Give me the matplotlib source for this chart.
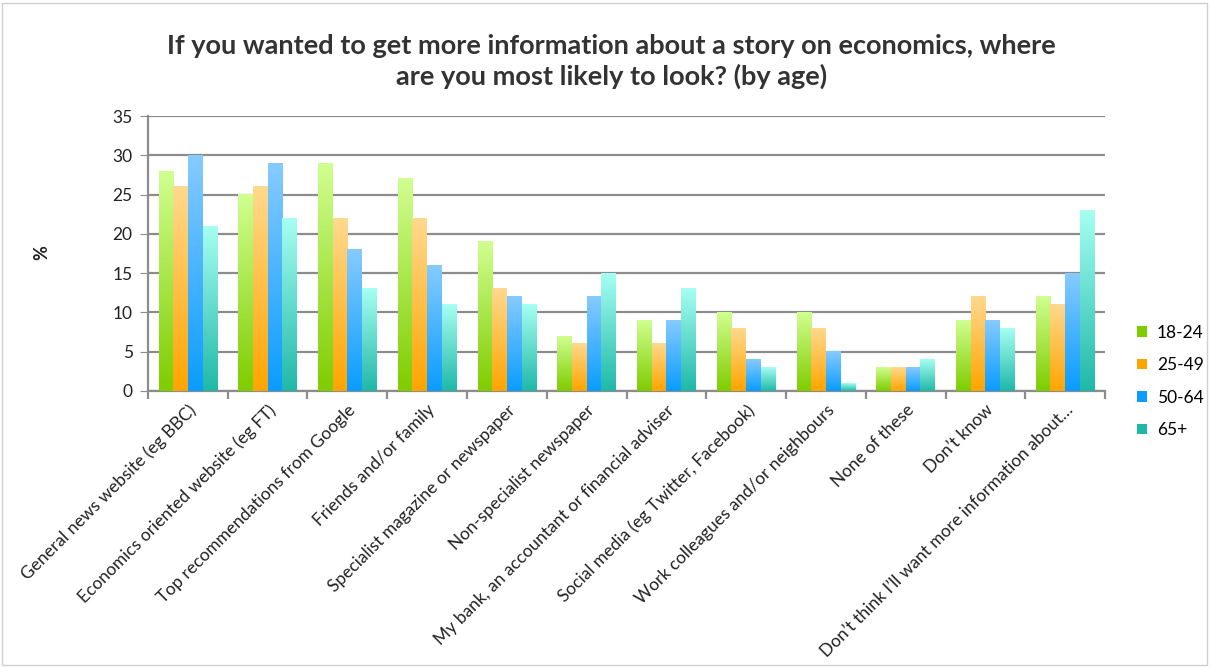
import numpy as np
import matplotlib.pyplot as plt
from matplotlib.colors import LinearSegmentedColormap
from matplotlib.patches import Rectangle, Patch

plt.rcParams['font.family'] = ['Lato', 'DejaVu Sans']

categories = [
    "General news website (eg BBC)",
    "Economics oriented website (eg FT)",
    "Top recommendations from Google",
    "Friends and/or family",
    "Specialist magazine or newspaper",
    "Non-specialist newspaper",
    "My bank, an accountant or financial adviser",
    "Social media (eg Twitter, Facebook)",
    "Work colleagues and/or neighbours",
    "None of these",
    "Don\u2019t know",
    "Don\u2019t think I\u2019ll want more information about\u2026",
]
age_18_24 = [28, 25, 29, 27, 19, 7, 9, 10, 10, 3, 9, 12]
age_25_49 = [26, 26, 22, 22, 13, 6, 6, 8, 8, 3, 12, 11]
age_50_64 = [30, 29, 18, 16, 12, 12, 9, 4, 5, 3, 9, 15]
age_65_plus = [21, 22, 13, 11, 11, 15, 13, 3, 1, 4, 8, 23]
series_names = ["18-24", "25-49", "50-64", "65+"]

# top colour, bottom colour for each series
gradients = [
    ("#d0ff90", "#7fcc00"),
    ("#ffd98e", "#ffa500"),
    ("#86cbff", "#0a9cff"),
    ("#a6fff2", "#1fb8a8"),
]

fig = plt.figure(figsize=(12.11, 6.68), dpi=100)
ax = fig.add_axes([0.1222, 0.4147, 0.7903, 0.4116])

series = [age_18_24, age_25_49, age_50_64, age_65_plus]
x = np.arange(len(categories))
w = 0.184
grad = np.linspace(1, 0, 256).reshape(-1, 1)
for i, vals in enumerate(series):
    cmap = LinearSegmentedColormap.from_list("g%d" % i, [gradients[i][1], gradients[i][0]])
    for xi, v in zip(x, vals):
        left = xi - 2 * w + i * w
        ax.imshow(grad, cmap=cmap, vmin=0, vmax=1, aspect='auto',
                  extent=[left, left + w, 0, v], zorder=3, interpolation='bilinear')

ax.set_xlim(-0.5, len(categories) - 0.5)
ax.set_ylim(0, 35)
ax.set_aspect('auto')
ax.set_yticks(range(0, 36, 5))
ax.yaxis.grid(True, color='#8c8c8c', linewidth=1.6)
ax.set_axisbelow(True)
for s in ['top', 'right']:
    ax.spines[s].set_visible(False)
ax.spines['left'].set_color('#8c8c8c')
ax.spines['bottom'].set_color('#8c8c8c')
ax.spines['left'].set_linewidth(1.6)
ax.spines['bottom'].set_linewidth(1.6)
ax.tick_params(axis='y', length=6, color='#8c8c8c', labelsize=12.5, labelcolor='#222222', pad=5)

ax.set_xticks(x)
ax.set_xticklabels(categories, rotation=45, ha='right', rotation_mode='anchor', fontsize=12.5, color='#222222')
ax.tick_params(axis='x', which='major', length=0, pad=8)
ax.set_xticks(np.arange(-0.5, len(categories), 1), minor=True)
ax.tick_params(axis='x', which='minor', length=6, color='#8c8c8c', width=1.6)

fig.text(42 / 1211, 1 - 253 / 668, '%', rotation=90, ha='center', va='center',
         fontsize=13, fontweight='bold', color='#222222')

fig.text(0.505, 0.908, "If you wanted to get more information about a story on economics, where\nare you most likely to look? (by age)",
         ha='center', va='center', fontsize=19.5, fontweight='bold', color='#333333', linespacing=1.3)

handles = [Patch(facecolor=gradients[i][0], edgecolor='none', label=series_names[i]) for i in range(4)]
leg = fig.legend(handles=handles, loc='center left', bbox_to_anchor=(0.926, 0.429), frameon=False,
                 fontsize=12.5, handlelength=0.55, handleheight=0.55, labelspacing=0.95, handletextpad=0.6)
for h, (top, bot) in zip(leg.legend_handles, gradients):
    h.set_facecolor(bot)

fig.patches.append(Rectangle((0.002, 0.004), 0.995, 0.992, transform=fig.transFigure,
                             fill=False, edgecolor='#d0d0d0', linewidth=1))

fig.savefig('out.png', dpi=100)
